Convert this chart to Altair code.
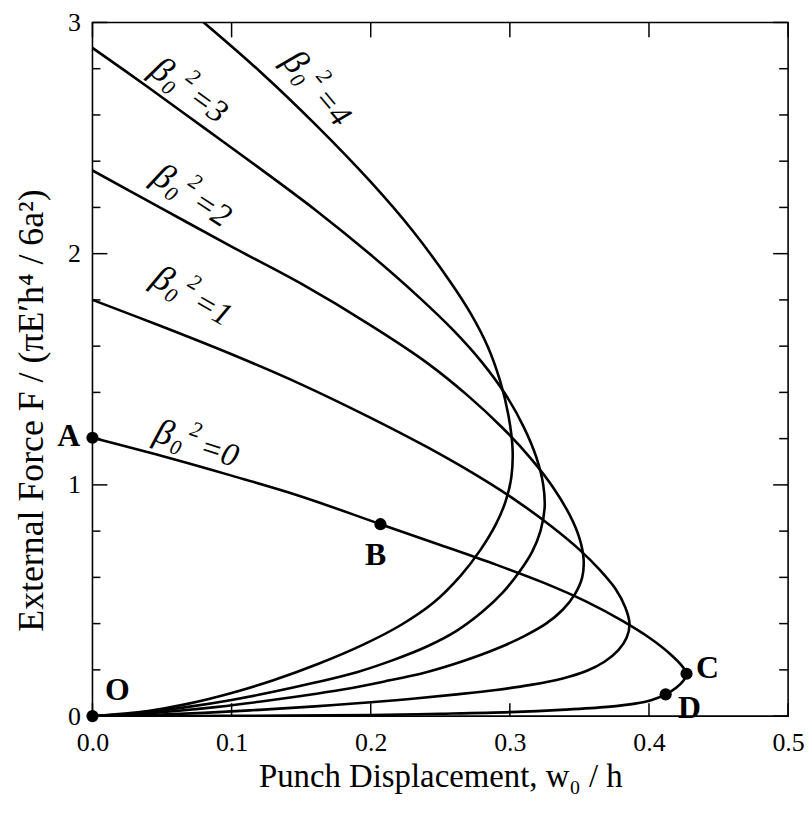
import altair as alt
import pandas as pd

# ---- data ----
# beta0^2 = 0 : A -> B -> C, then C -> D and the lower branch back to O
b0_x = [0.0, 0.05, 0.10, 0.15, 0.207, 0.25, 0.29, 0.325, 0.355, 0.38, 0.40, 0.415, 0.424, 0.427, 0.425, 0.42, 0.412, 0.402, 0.39, 0.37, 0.34, 0.30, 0.25, 0.20, 0.14, 0.07, 0.0]
b0_y = [1.204, 1.125, 1.04, 0.95, 0.83, 0.74, 0.655, 0.575, 0.495, 0.415, 0.34, 0.27, 0.215, 0.183, 0.155, 0.125, 0.094, 0.07, 0.054, 0.04, 0.028, 0.017, 0.01, 0.005, 0.002, 0.0005, 0.0]

b1_x = [0.0, 0.05, 0.10, 0.15, 0.20, 0.24, 0.275, 0.305, 0.33, 0.35, 0.365, 0.376, 0.383, 0.386, 0.384, 0.378, 0.368, 0.355, 0.338, 0.315, 0.29, 0.26, 0.23, 0.20, 0.16, 0.12, 0.08, 0.04, 0.0]
b1_y = [1.80, 1.685, 1.565, 1.435, 1.29, 1.165, 1.045, 0.93, 0.82, 0.72, 0.63, 0.55, 0.47, 0.40, 0.34, 0.285, 0.235, 0.195, 0.163, 0.135, 0.113, 0.093, 0.075, 0.06, 0.042, 0.027, 0.014, 0.005, 0.0]

b2_x = [0.0, 0.05, 0.10, 0.15, 0.20, 0.24, 0.27, 0.295, 0.315, 0.331, 0.343, 0.350, 0.353, 0.352, 0.347, 0.338, 0.326, 0.31, 0.29, 0.265, 0.24, 0.21, 0.18, 0.15, 0.12, 0.09, 0.06, 0.03, 0.0]
b2_y = [2.36, 2.195, 2.03, 1.87, 1.69, 1.53, 1.385, 1.245, 1.115, 0.99, 0.87, 0.77, 0.68, 0.60, 0.53, 0.46, 0.40, 0.345, 0.29, 0.235, 0.19, 0.15, 0.115, 0.087, 0.062, 0.04, 0.022, 0.008, 0.0]

b3_x = [0.0, 0.04, 0.08, 0.12, 0.16, 0.20, 0.235, 0.26, 0.28, 0.297, 0.310, 0.319, 0.324, 0.325, 0.322, 0.316, 0.307, 0.295, 0.28, 0.262, 0.24, 0.215, 0.19, 0.16, 0.13, 0.10, 0.07, 0.04, 0.0]
b3_y = [2.89, 2.72, 2.545, 2.37, 2.19, 1.995, 1.81, 1.665, 1.53, 1.39, 1.25, 1.12, 1.00, 0.90, 0.80, 0.71, 0.625, 0.535, 0.45, 0.37, 0.30, 0.24, 0.19, 0.145, 0.105, 0.07, 0.041, 0.018, 0.0]

b4_x = [0.0, 0.04, 0.08, 0.12, 0.16, 0.20, 0.23, 0.257, 0.272, 0.284, 0.293, 0.299, 0.302, 0.301, 0.297, 0.290, 0.279, 0.265, 0.245, 0.222, 0.195, 0.162, 0.13, 0.10, 0.07, 0.04, 0.0]
b4_y = [3.40, 3.20, 3.00, 2.79, 2.56, 2.31, 2.10, 1.88, 1.74, 1.60, 1.45, 1.30, 1.15, 1.03, 0.93, 0.83, 0.72, 0.61, 0.49, 0.395, 0.31, 0.225, 0.155, 0.10, 0.055, 0.022, 0.0]

curves = {"0": (b0_x, b0_y), "1": (b1_x, b1_y), "2": (b2_x, b2_y), "3": (b3_x, b3_y), "4": (b4_x, b4_y)}

# marked points
pt_names = ["O", "A", "B", "C", "D"]
pt_x = [0.0, 0.0, 0.207, 0.427, 0.412]
pt_y = [0.0, 1.204, 0.83, 0.183, 0.094]

# curve labels (centre of each label)
lab_beta = ["0", "1", "2", "3", "4"]
lab_x = [0.074, 0.071, 0.071, 0.069, 0.161]
lab_y = [1.18, 1.82, 2.255, 2.71, 2.72]

# ticks
x_ticks = [0.0, 0.1, 0.2, 0.3, 0.4, 0.5]
y_major = [0, 1, 2, 3]
y_minor = [0.2, 0.4, 0.6, 0.8, 1.2, 1.4, 1.6, 1.8, 2.2, 2.4, 2.6, 2.8]

W, H = 700, 698
SERIF = "Liberation Serif"

rows = []
for b, (xs_, ys_) in curves.items():
    for i, (x, y) in enumerate(zip(xs_, ys_)):
        rows.append({"beta": b, "x": x, "y": y, "i": i})
df = pd.DataFrame(rows)

xs = alt.Scale(domain=[0, 0.5], nice=False, zero=False)
ys = alt.Scale(domain=[0, 3], nice=False, zero=False)

base_x = alt.X("x:Q", scale=xs,
               axis=alt.Axis(values=x_ticks, format=".1f", ticks=False, domain=False, grid=False,
                             labelFlush=False, labelFont=SERIF, labelFontSize=26, labelColor="black",
                             labelPadding=14,
                             title="Punch Displacement, w\u2080 / h", titleFont=SERIF, titleFontSize=33,
                             titleFontWeight="normal", titleColor="black", titlePadding=5))
base_y = alt.Y("y:Q", scale=ys,
               axis=alt.Axis(values=y_major, format="d", ticks=False, domain=False, grid=False,
                             labelFlush=False, labelFont=SERIF, labelFontSize=26, labelColor="black",
                             labelPadding=12,
                             title="External Force F / (\u03c0E\u2032h\u2074 / 6a\u00b2)", titleFont=SERIF,
                             titleFontSize=36, titleFontWeight="normal", titleColor="black",
                             titlePadding=17, titleY=390))

lines = alt.Chart(df).mark_line(color="black", strokeWidth=2.6, clip=True, interpolate="catmull-rom").encode(
    x=base_x, y=base_y, detail="beta:N", order="i:Q")

pdf = pd.DataFrame({"name": pt_names, "x": pt_x, "y": pt_y})
points = alt.Chart(pdf).mark_circle(color="black", opacity=1, size=150).encode(
    x=alt.X("x:Q", scale=xs), y=alt.Y("y:Q", scale=ys))

offsets = {"O": (25, -26), "A": (-24, -2), "B": (-5, 31), "C": (21, -6), "D": (24, 14)}
ptlabels = []
for n, x, y in zip(pt_names, pt_x, pt_y):
    dx, dy = offsets[n]
    ptlabels.append(alt.Chart(pd.DataFrame({"x": [x], "y": [y], "t": [n]})).mark_text(
        font=SERIF, fontSize=32, fontWeight="bold", color="black", dx=dx, dy=dy, baseline="middle", align="center"
    ).encode(x=alt.X("x:Q", scale=xs), y=alt.Y("y:Q", scale=ys), text="t:N"))

angles = {"0": 18, "1": 30, "2": 33, "3": 36, "4": 50}
# pieces of "beta_0^2 = n": (text, font size, dx, dy) in the rotated frame
blabels = []
for b, x, y in zip(lab_beta, lab_x, lab_y):
    pieces = [("\u03b2", 36, -42, 11), ("0", 21, -23, 17), ("2", 22, -9, -6), ("=" + b, 33, 6, 11)]
    for txt, fs, dx, dy in pieces:
        blabels.append(alt.Chart(pd.DataFrame({"x": [x], "y": [y], "t": [txt]})).mark_text(
            font=SERIF, fontSize=fs, fontStyle="italic", color="black", angle=angles[b],
            baseline="alphabetic", align="left", dx=dx, dy=dy
        ).encode(x=alt.X("x:Q", scale=xs), y=alt.Y("y:Q", scale=ys), text="t:N"))

xt = pd.DataFrame({"x": x_ticks})
ymaj = pd.DataFrame({"y": y_major})
ymin = pd.DataFrame({"y": y_minor})
tick_bottom = alt.Chart(xt).mark_rule(color="black", strokeWidth=1.5).encode(
    x=alt.X("x:Q", scale=xs), y=alt.value(H), y2=alt.value(H - 13))
tick_top = alt.Chart(xt).mark_rule(color="black", strokeWidth=1.5).encode(
    x=alt.X("x:Q", scale=xs), y=alt.value(0), y2=alt.value(15))
tick_left_maj = alt.Chart(ymaj).mark_rule(color="black", strokeWidth=1.5).encode(
    y=alt.Y("y:Q", scale=ys), x=alt.value(0), x2=alt.value(15))
tick_left_min = alt.Chart(ymin).mark_rule(color="black", strokeWidth=1.5).encode(
    y=alt.Y("y:Q", scale=ys), x=alt.value(0), x2=alt.value(8))
tick_right_maj = alt.Chart(ymaj).mark_rule(color="black", strokeWidth=1.5).encode(
    y=alt.Y("y:Q", scale=ys), x=alt.value(W), x2=alt.value(W - 15))
tick_right_min = alt.Chart(ymin).mark_rule(color="black", strokeWidth=1.5).encode(
    y=alt.Y("y:Q", scale=ys), x=alt.value(W), x2=alt.value(W - 9))

chart = alt.layer(
    lines, tick_bottom, tick_top, tick_left_maj, tick_left_min, tick_right_maj, tick_right_min,
    points, *ptlabels, *blabels
).properties(
    width=W, height=H,
    autosize=alt.AutoSizeParams(type="none"),
    padding={"left": 85, "top": 12, "right": 16, "bottom": 100},
    background="white",
).configure_view(stroke="black", strokeWidth=1.6)

chart.save("out.html", embed_options={"renderer": "svg", "actions": False})
